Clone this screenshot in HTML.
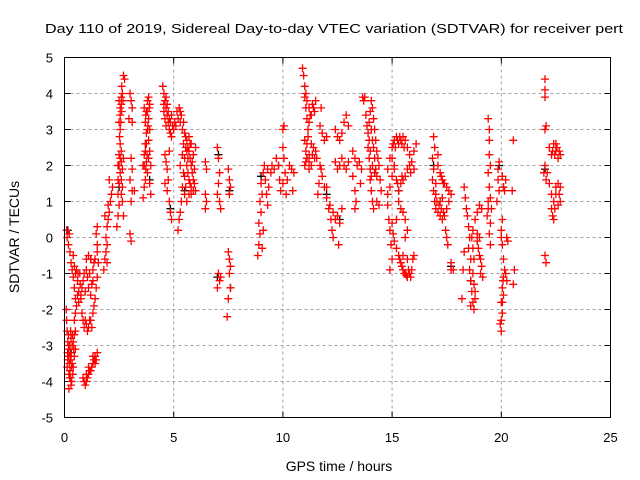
<!DOCTYPE html>
<html><head><meta charset="utf-8"><style>
html,body{margin:0;padding:0;background:#fff}
svg{display:block;font-family:"Liberation Sans",sans-serif}
</style></head><body>
<svg id="chart" width="640" height="480" viewBox="0 0 640 480">
<rect width="640" height="480" fill="#fff"/>
<text x="45" y="33" font-size="13" textLength="578" lengthAdjust="spacingAndGlyphs">Day 110 of 2019, Sidereal Day-to-day VTEC variation (SDTVAR) for receiver pert</text>
<text x="339" y="471" font-size="14" text-anchor="middle">GPS time / hours</text>
<text transform="translate(19,237) rotate(-90)" font-size="14" text-anchor="middle">SDTVAR / TECUs</text>
<g id="grid"></g><g id="ticks"></g><g id="marks"></g>
<rect x="64.5" y="57.5" width="546" height="360" fill="none" stroke="#000"/>
</svg>
<script>
const xTicks=[0,5,10,15,20,25];
const yTicks=[-5,-4,-3,-2,-1,0,1,2,3,4,5];
const blackPts=[[0.15,0.2],[0.3,-3.2],[1.2,-0.6],[2.5,1.4],[3.9,1.6],[4.85,0.8],[5.5,1.3],[7.0,-1.1],[7.05,2.3],[7.6,-1.4],[7.55,1.3],[9.0,1.7],[9.8,2.0],[11.1,2.2],[12.0,1.2],[12.6,0.5],[14.2,1.8],[15.3,1.3],[16.9,2.0],[17.7,-0.8],[18.6,-1.2],[19.9,2.0],[20.1,1.4],[22.0,1.9]];
const redPts=[[0.1,0.2],[0.12,0.0],[0.18,-0.2],[0.22,0.1],[0.25,-0.4],[0.3,-0.7],[0.35,-0.9],[0.4,-1.1],[0.45,-1.4],[0.5,-1.7],
[0.08,-2.0],[0.1,-2.3],[0.12,-2.6],[0.15,-2.9],[0.18,-3.1],[0.2,-3.3],[0.22,-3.5],[0.25,-3.7],[0.28,-3.9],[0.3,-4.1],[0.15,-3.4],[0.2,-3.8],[0.3,-3.3],[0.35,-3.0],[0.4,-3.6],[0.45,-3.3],[0.5,-3.1],[0.35,-3.5],[0.4,-2.9],[0.45,-2.7],[0.5,-2.6],[0.12,-3.6],[0.25,-3.0],[0.3,-2.8],[0.2,-4.2],
[0.45,-2.3],[0.5,-2.1],[0.55,-1.9],[0.65,-1.8],[0.75,-1.7],[0.6,-1.6],
[0.4,-0.5],[0.45,-0.8],[0.5,-1.0],[0.55,-0.9],[0.6,-1.2],[0.7,-1.0],[0.8,-1.4],[0.85,-1.2],[0.9,-1.0],[1.0,-0.9],[1.05,-1.1],[1.1,-1.4],[1.2,-1.6],[1.25,-1.3],[1.3,-0.9],[1.35,-0.7],[1.4,-0.6],[1.2,-0.6],[1.0,-0.6],[1.1,-0.5],[1.5,-0.4],[0.65,-1.5],[0.75,-1.6],
[0.8,-2.1],[0.85,-2.3],[0.9,-2.5],[1.0,-2.4],[1.05,-2.6],[1.1,-2.5],[1.2,-2.3],[1.3,-2.1],[1.35,-1.9],[1.4,-1.7],[1.45,-1.4],[1.5,-1.1],[1.55,-0.7],[1.5,-0.2],[1.45,0.1],[1.5,0.3],
[0.85,-3.9],[0.9,-4.0],[0.95,-4.1],[1.0,-4.0],[1.05,-3.9],[1.1,-3.8],[1.2,-3.7],[1.25,-3.6],[1.3,-3.5],[1.35,-3.4],[1.4,-3.3],[1.45,-3.4],[1.5,-3.2],[1.1,-3.6],
[1.8,-0.9],[1.85,-0.6],[1.9,-0.4],[1.95,-0.2],[1.9,0.0],[1.95,0.3],[2.0,0.5],[2.05,0.7],[1.85,0.6],[2.0,0.9],[2.1,1.0],[2.15,1.2],[2.2,1.4],[2.05,1.6],[1.95,-0.7],
[2.4,0.3],[2.45,0.6],[2.5,0.9],[2.45,1.2],[2.5,1.5],[2.55,1.8],[2.45,2.0],[2.5,2.3],[2.6,2.1],[2.55,2.6],[2.6,1.6],[2.65,1.9],[2.7,2.2],[2.6,1.2],[2.55,3.0],[2.5,3.2],[2.55,3.4],[2.6,3.7],[2.65,4.0],[2.6,3.9],[2.75,4.4],[2.7,4.5],[2.5,3.8],[2.65,1.0],[2.7,0.6],
[3.0,4.0],[3.05,3.8],[3.1,3.6],[2.95,3.3],[3.1,3.2],[3.05,2.2],[3.1,1.9],[3.0,1.6],[3.1,1.3],[3.05,1.0],[3.2,1.3],[3.0,0.1],[3.05,-0.1],
[3.6,1.1],[3.65,1.4],[3.7,1.6],[3.6,2.0],[3.65,2.3],[3.7,2.6],[3.75,2.9],[3.7,3.2],[3.75,3.5],[3.8,3.8],[3.85,3.9],[3.9,3.7],[3.85,3.3],[3.9,3.0],[3.85,2.7],[3.9,2.4],[3.95,2.0],[3.8,1.8],[3.9,1.5],[3.95,1.2],[3.75,2.1],[3.65,3.6],
[4.5,4.2],[4.55,4.0],[4.6,3.8],[4.65,3.6],[4.7,3.4],[4.6,3.3],[4.75,3.2],[4.8,3.0],[4.85,2.9],[4.9,2.8],[4.6,2.3],[4.65,2.1],[4.7,1.9],[4.75,1.6],[4.7,1.3],[4.8,1.0],[4.85,0.7],[4.9,0.5],[4.6,1.5],[5.0,3.0],[5.05,3.2],[5.1,3.1],[4.8,2.4],
[5.2,3.3],[5.25,3.6],[5.3,3.2],[5.35,3.4],[5.4,3.0],[5.45,3.2],[5.5,2.9],[5.55,2.8],[5.6,2.7],[5.65,2.5],[5.7,2.4],[5.75,2.2],[5.8,2.0],[5.85,1.8],[5.9,1.6],[5.95,1.5],[6.0,1.3],[5.5,2.2],[5.45,1.8],[5.4,1.4],[5.35,1.0],[5.3,0.7],[5.25,0.5],[5.2,0.2],[5.5,1.2],[5.6,1.0],[5.7,1.2],[5.8,1.4],[5.9,1.3],[5.6,2.4],[5.7,2.8],[5.8,2.6],[5.9,2.3],[6.0,2.5],[5.5,1.7],[5.3,2.0],[5.4,2.3],
[6.45,2.1],[6.5,1.9],[6.45,1.2],[6.5,1.0],[6.45,0.8],
[7.0,2.5],[7.05,2.2],[7.1,1.8],[7.05,1.5],[7.0,1.2],[7.1,1.0],[7.15,0.8],[7.05,-1.0],[7.1,-1.2],[7.15,-1.1],[7.0,-1.4],
[7.5,1.9],[7.55,1.6],[7.6,1.4],[7.55,1.2],[7.5,-0.4],[7.55,-0.6],[7.6,-0.8],[7.55,-1.0],[7.6,-1.4],[7.5,-1.7],[7.45,-2.2],
[8.85,-0.5],[8.9,-0.2],[8.95,0.1],[8.9,0.4],[9.0,0.7],[8.95,1.0],[9.05,1.2],[9.0,1.5],[9.1,1.8],[9.15,2.0],[9.2,1.6],[9.25,1.2],[9.3,0.9],[9.35,1.4],[9.45,1.8],[9.5,2.0],[9.6,1.9],[9.7,2.2],[9.8,2.0],[9.85,1.6],[9.9,1.3],[9.05,-0.3],[9.1,0.2],[9.3,1.9],
[10.0,2.5],[10.05,2.2],[10.1,1.8],[10.0,1.5],[10.15,1.2],[10.2,1.6],[10.3,2.0],[10.4,1.9],[10.5,1.8],[10.45,1.3],[10.0,3.0],[10.05,3.1],
[10.9,4.7],[10.95,4.5],[11.0,4.2],[11.0,3.9],[11.05,3.6],[11.1,3.3],[11.15,3.0],[11.2,3.2],[11.3,3.4],[11.4,3.6],[11.5,3.8],[11.0,2.7],[11.05,2.4],[11.1,2.2],[11.0,2.0],[11.2,2.3],[11.3,2.6],[11.4,2.5],[11.5,2.4],[11.55,2.2],[11.2,1.9],[11.3,2.0],[11.15,2.8],
[11.7,3.1],[11.8,2.9],[11.9,2.7],[12.0,2.8],[11.75,3.6],[12.0,1.4],[11.7,2.0],[11.8,1.7],[11.9,1.4],[12.0,1.1],[12.1,0.8],[12.2,0.5],[12.3,0.0],[12.25,0.2],[12.15,0.9],[12.3,0.7],[12.4,0.5],[11.75,1.9],[11.65,1.5],[11.6,1.2],
[12.4,3.0],[12.5,2.8],[12.6,2.7],[12.7,2.9],[12.8,3.2],[12.9,3.4],[13.0,3.1],[12.4,2.1],[12.5,1.9],[12.6,2.0],[12.7,2.2],[12.8,2.0],[12.9,1.9],[13.0,2.1],[12.5,0.6],[12.6,0.4],[12.7,0.8],[12.55,-0.2],
[13.2,2.4],[13.3,2.2],[13.4,2.0],[13.5,2.1],[13.2,1.7],[13.3,1.3],[13.35,1.0],[13.3,0.8],[13.6,1.9],[13.55,1.5],[13.65,3.9],[13.7,3.8],[13.75,3.9],
[13.8,3.4],[13.85,3.1],[13.9,2.9],[13.95,3.2],[14.0,3.5],[14.05,3.8],[14.1,3.6],[14.15,3.3],[14.2,3.0],[14.25,2.7],[14.3,2.4],[14.35,2.2],[14.4,2.0],[13.9,2.5],[13.95,2.2],[14.0,1.9],[14.0,1.6],[14.05,1.3],[14.1,1.0],[14.15,0.8],[14.3,1.0],[14.4,0.9],[14.5,1.3],[14.2,1.8],[14.3,1.7],[14.45,1.6],
[14.8,1.9],[14.9,2.2],[15.0,2.5],[15.1,2.7],[15.2,2.8],[15.3,2.6],[15.4,2.7],[15.5,2.8],[15.6,2.7],[15.7,2.5],[15.8,2.3],[15.9,2.1],[15.85,1.8],[16.0,1.9],[15.0,2.2],[15.1,2.0],
[14.8,1.2],[14.9,1.4],[15.0,1.7],[15.1,1.9],[15.2,1.6],[15.3,1.3],[15.4,1.5],[15.5,1.6],[15.6,1.7],[15.7,1.9],[15.8,2.0],[16.0,2.4],[16.1,2.6],
[14.8,0.9],[14.85,0.5],[14.9,0.2],[14.95,-0.2],[15.0,0.4],[15.05,0.1],[15.1,-0.1],[15.2,-0.3],[15.3,-0.5],[15.4,-0.7],[15.5,-0.9],[15.6,-1.0],[15.7,-1.1],[15.8,-1.0],[15.9,-0.9],[15.95,-0.6],[16.0,-0.5],[15.7,-0.6],[15.5,-0.5],[15.3,1.0],[15.4,0.8],[15.5,0.7],[15.6,0.5],[15.7,0.2],[15.6,0.0],[15.2,0.5],[15.0,-0.6],[14.9,-0.9],
[16.9,2.8],[16.95,2.5],[16.85,2.2],[16.9,1.9],[16.85,1.6],[16.9,1.3],[16.95,1.0],[17.0,0.8],[17.1,0.7],[17.2,0.6],[17.3,0.5],[17.4,0.6],[17.5,0.8],[17.6,1.0],[17.7,1.2],[17.1,2.0],[17.2,1.8],[17.3,1.6],[17.4,1.5],[17.5,1.4],[17.6,1.3],[17.1,2.3],[17.0,1.2],[17.45,0.2],[17.5,0.0],[17.55,-0.2],[17.7,-0.7],[17.8,-0.9],[17.7,-0.9],[17.3,1.1],[17.2,1.0],
[18.3,1.4],[18.35,1.1],[18.4,0.8],[18.45,0.6],[18.5,0.3],[18.55,0.0],[18.5,-0.3],[18.6,-0.6],[18.55,-0.9],[18.6,-1.2],[18.65,-1.5],[18.7,-1.8],[18.75,-2.0],[18.6,-1.9],[18.8,-1.7],[18.8,0.5],[18.9,0.7],[19.0,0.9],[19.1,0.8],[18.7,0.2],[18.9,0.1],[18.95,-0.3],[19.0,-0.5],[19.1,-0.8],[19.05,-1.0],[19.15,-1.1],[18.2,-1.7],[18.25,-0.9],[18.3,-0.4],
[19.4,3.3],[19.45,3.0],[19.45,2.7],[19.45,2.3],[19.5,2.0],[19.4,1.8],[19.45,1.4],[19.5,1.1],[19.4,0.8],[19.5,0.4],[19.45,0.1],[19.5,-0.2],[19.4,1.0],[19.35,0.6],[19.55,0.8],[19.85,1.9],[19.9,2.1],[19.85,1.6],[19.9,1.3],[19.8,1.0],
[20.0,0.2],[20.05,0.5],[20.1,1.4],[20.15,1.3],[20.2,1.6],[20.05,1.7],[20.0,0.0],[20.05,-0.2],[20.1,-0.6],[20.15,-0.9],[20.1,-1.1],[20.05,-1.4],[20.0,-1.8],[20.05,-2.1],[19.95,-2.4],[20.0,-2.6],[20.2,-1.0],[20.25,-1.2],[20.3,-0.1],[20.25,0.0],
[20.55,2.7],[20.5,1.3],[20.6,-0.9],[20.55,-1.3],
[22.0,4.4],[22.0,4.1],[22.0,3.9],[22.05,3.1],[22.0,3.0],[22.0,2.0],[21.95,1.8],[22.05,1.6],[22.1,1.8],[22.2,2.5],[22.3,2.3],[22.4,2.6],[22.5,2.4],[22.6,2.2],[22.7,2.3],[22.5,2.6],[22.2,1.5],[22.3,1.2],[22.4,1.0],[22.5,1.2],[22.6,1.5],[22.7,1.4],[22.3,0.8],[22.35,0.6],[22.4,0.5],[22.6,0.9],[22.7,1.0],[22.0,-0.5],[22.05,-0.7]];
const redPtsExtra=[[0.18,-2.7],[0.22,-3.0],[0.28,-3.4],[0.32,-3.6],[0.38,-3.8],[0.42,-3.1],[0.28,-2.6],[0.14,-3.2],[0.24,-3.9],[0.33,-4.0],[0.26,-3.2],[0.36,-2.7],
[0.62,-1.0],[0.72,-1.3],[0.95,-1.5],[1.15,-1.0],[1.3,-1.2],[0.95,-2.3],[1.15,-2.3],[1.25,-2.5],[1.0,-3.8],[1.15,-3.7],[1.3,-3.3],[1.4,-3.5],
[2.45,1.6],[2.55,2.2],[2.6,2.4],[2.52,2.8],[2.58,3.2],[2.62,3.5],[2.55,3.6],[2.68,3.8],[2.62,4.2],[2.5,2.0],[2.65,1.4],
[3.65,2.0],[3.7,2.4],[3.75,2.6],[3.8,3.0],[3.72,3.4],[3.8,3.5],[3.88,3.6],[3.82,3.1],[3.72,1.9],[3.78,2.3],[3.85,2.2],
[4.55,3.7],[4.65,3.9],[4.7,3.7],[4.75,3.5],[4.8,3.3],[4.85,3.2],[4.9,3.4],[4.95,3.1],[4.65,3.1],[4.55,3.5],
[5.15,3.5],[5.3,3.5],[5.45,2.6],[5.55,2.5],[5.6,2.0],[5.65,1.8],[5.7,1.6],[5.75,1.5],[5.85,2.1],[5.95,1.9],[5.55,1.4],[5.65,2.2],[5.75,2.6],[5.8,1.2],
[11.05,4.0],[11.1,3.8],[11.2,3.6],[11.25,3.4],[11.35,3.7],[11.45,3.5],[11.1,2.6],[11.2,2.1],[11.35,2.3],[11.45,2.2],[11.05,2.1],
[14.05,3.0],[14.1,2.7],[14.15,2.5],[14.2,2.2],[14.25,1.9],[14.1,2.0],[14.05,1.7],[13.95,2.7],[14.0,2.4],
[15.05,2.6],[15.15,2.5],[15.25,2.7],[15.35,2.8],[15.45,2.6],[15.55,2.5],[15.25,1.5],[15.45,1.7],[15.35,-0.6],[15.45,-0.8],[15.55,-1.0],[15.65,-1.05],[15.75,-0.9],[15.85,-1.1],
[17.0,1.5],[17.05,1.0],[17.15,0.9],[17.25,0.8],[17.35,0.7],[17.25,1.7],[17.35,1.5],
[18.65,0.0],[18.7,-0.3],[18.75,-0.6],[18.7,-1.0],[18.75,-1.3],[18.8,-1.5],[18.9,-0.1],[19.0,0.0],[19.05,-0.6],
[20.05,-1.8],[20.1,-1.6],[20.0,-2.3],[20.08,-1.2],
[22.35,2.4],[22.45,2.3],[22.55,2.5],[22.65,2.4],[22.5,1.4],[22.65,1.2],[22.45,0.8]];

const NS="http://www.w3.org/2000/svg";
const X0=64.5,X1=610.5,Y0=417.5,Y1=57.5;
function xs(t){return X0+(t-0)/(25-0)*(X1-X0);}
function ys(v){return Y0-(v+5)/10*(Y0-Y1);}
function mk(tag,attrs,parent){const e=document.createElementNS(NS,tag);for(const k in attrs)e.setAttribute(k,attrs[k]);parent.appendChild(e);return e;}
const grid=document.getElementById('grid'),ticks=document.getElementById('ticks'),marks=document.getElementById('marks');
xTicks.forEach(t=>{
  const x=xs(t);
  if(t>0&&t<25){const g=mk('line',{x1:x,x2:x,y1:Y1,y2:Y0,stroke:'#a0a0a0','stroke-dasharray':'3,3'},grid);
  
  }
  mk('line',{x1:x,x2:x,y1:Y0,y2:Y0-6,stroke:'#000'},ticks);
  mk('line',{x1:x,x2:x,y1:Y1,y2:Y1+6,stroke:'#000'},ticks);
  const l=mk('text',{x:x,y:442,'font-size':13,'text-anchor':'middle'},ticks);
  l.textContent=t;
  
  
});
yTicks.forEach(v=>{
  const y=ys(v);
  if(v>-5&&v<5){const g=mk('line',{x1:X0,x2:X1,y1:y,y2:y,stroke:'#a0a0a0','stroke-dasharray':'3,3'},grid);
  
  }
  mk('line',{x1:X0,x2:X0+6,y1:y,y2:y,stroke:'#000'},ticks);
  mk('line',{x1:X1,x2:X1-6,y1:y,y2:y,stroke:'#000'},ticks);
  const l=mk('text',{x:53,y:y+5,'font-size':13,'text-anchor':'end'},ticks);
  l.textContent=v;
  
  
});
function plus(t,v,col){
  const x=xs(t),y=ys(v);
  return mk('path',{d:`M${x-4},${y}H${x+4}M${x},${y-4}V${y+4}`,stroke:col,'stroke-width':1.3,fill:'none'},marks);
}
blackPts.forEach(d=>{const p=plus(d[0],d[1],'#000');
  
  });
redPts.concat(redPtsExtra).forEach(d=>{const p=plus(d[0],d[1],'#ff0000');
  
  });
</script>
</body></html>
